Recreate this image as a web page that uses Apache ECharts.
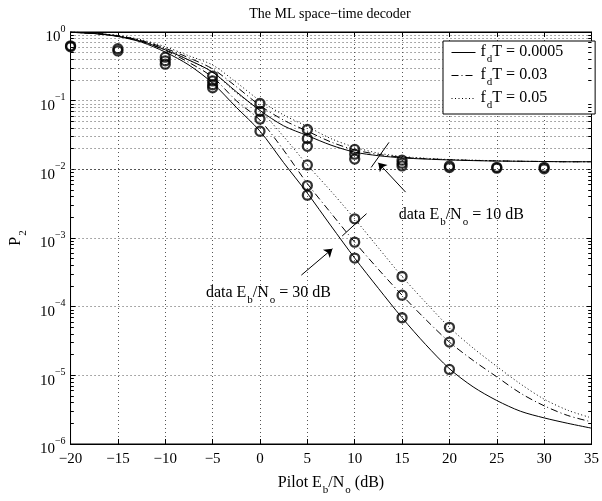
<!DOCTYPE html>
<html>
<head>
<meta charset="utf-8">
<script src="https://cdn.jsdelivr.net/npm/echarts@6/dist/echarts.min.js"></script>
<style>
html, body { margin: 0; padding: 0; background: #fff; }
#chart { width: 602px; height: 501px; }
</style>
</head>
<body>
<div id="chart"></div>
<script>
// pilot Eb/No (dB) where the analytic curves are read
const pilotSnr = [-20, -17.5, -15, -12.5, -10, -7.5, -5, -2.5, 0, 2.5, 5, 7.5, 10, 12.5, 15, 17.5, 20, 22.5, 25, 27.5, 30, 32.5, 35];
const fdT = ['0.0005', '0.03', '0.05'];

// data Eb/No = 10 dB
const solid10 = [0.99, 0.95, 0.87, 0.73, 0.55, 0.39, 0.26, 0.135, 0.072, 0.043, 0.031, 0.0225, 0.0178, 0.0158, 0.0147, 0.0141, 0.0137, 0.0134, 0.0132, 0.0131, 0.013, 0.0129, 0.0129];
const dash10 = [0.99, 0.955, 0.88, 0.75, 0.58, 0.42, 0.29, 0.16, 0.085, 0.052, 0.036, 0.025, 0.0192, 0.0165, 0.015, 0.0143, 0.0138, 0.0135, 0.0133, 0.0131, 0.013, 0.0129, 0.0129];
const dot10 = [1.0, 0.96, 0.89, 0.77, 0.61, 0.45, 0.33, 0.185, 0.10, 0.062, 0.042, 0.028, 0.021, 0.0172, 0.0154, 0.0145, 0.0139, 0.0136, 0.0133, 0.0131, 0.013, 0.0129, 0.0129];
// data Eb/No = 30 dB
const solid30 = [0.99, 0.95, 0.86, 0.71, 0.51, 0.33, 0.18, 0.08, 0.036, 0.0125, 0.0045, 0.0015, 0.00051, 0.000185, 0.000069, 0.000028, 0.0000125, 0.0000068, 0.0000043, 0.000003, 0.0000024, 0.000002, 0.0000017];
const dash30 = [0.99, 0.955, 0.87, 0.73, 0.54, 0.36, 0.22, 0.10, 0.052, 0.019, 0.0062, 0.0023, 0.00087, 0.00035, 0.000147, 0.000065, 0.0000305, 0.0000165, 0.0000095, 0.0000055, 0.0000036, 0.0000026, 0.0000021];
const dot30 = [1.0, 0.96, 0.88, 0.75, 0.57, 0.39, 0.26, 0.13, 0.072, 0.03, 0.0116, 0.0048, 0.0019, 0.00072, 0.000275, 0.000115, 0.00005, 0.000025, 0.0000135, 0.0000075, 0.0000045, 0.0000031, 0.0000024];

// simulated points (circles)
const simPoints = [
  [-20, 0.63], [-20, 0.61],
  [-15, 0.57], [-15, 0.53],
  [-10, 0.43], [-10, 0.38], [-10, 0.34],
  [-5, 0.228], [-5, 0.194], [-5, 0.170], [-5, 0.154],
  [0, 0.091], [0, 0.070], [0, 0.054], [0, 0.036],
  [5, 0.038], [5, 0.028], [5, 0.0216], [5, 0.0116], [5, 0.0058], [5, 0.0042],
  [10, 0.0195], [10, 0.0166], [10, 0.0141], [10, 0.0019], [10, 0.00087], [10, 0.00051],
  [15, 0.0136], [15, 0.0123], [15, 0.0112], [15, 0.000275], [15, 0.000147], [15, 0.000069],
  [20, 0.0112], [20, 0.0106], [20, 0.00005], [20, 0.0000305], [20, 0.0000122],
  [25, 0.0107], [25, 0.0104],
  [30, 0.0107], [30, 0.0102]
];

const decades = [-6, -5, -4, -3, -2, -1, 0];

const serif = 'Liberation Serif';
const gridDots = { type: [1, 3], color: '#555', width: 1 };
const lineTypes = ['solid', [7, 3, 1, 3], [1, 2.5]];

const rich = {
  n: { fontFamily: serif, fontSize: 16, color: '#000', verticalAlign: 'top', lineHeight: 17 },
  s: { fontFamily: serif, fontSize: 11, color: '#000', verticalAlign: 'top', lineHeight: 11, padding: [10, 0, 0, 1] }
};
const supRich = {
  b: { fontFamily: serif, fontSize: 15, color: '#000', verticalAlign: 'top', lineHeight: 16, padding: [6, 0, 0, 0] },
  e: { fontFamily: serif, fontSize: 10, color: '#000', verticalAlign: 'top', lineHeight: 11 }
};

// minor log values 2..9 x 10^k
const minorVals = [];
decades.slice(0, -1).forEach(function (k) {
  for (let m = 2; m <= 9; m++) minorVals.push(m * Math.pow(10, k));
});

function pairs(ys) {
  return pilotSnr.map(function (x, i) { return [x, ys[i]]; });
}

const curves = [solid10, dash10, dot10, solid30, dash30, dot30];
const series = curves.map(function (ys, i) {
  return {
    name: fdT[i % 3],
    type: 'line',
    data: pairs(ys),
    symbol: 'none',
    smooth: 0.3,
    lineStyle: { color: '#000', width: 1, type: lineTypes[i % 3] },
    itemStyle: { color: '#000' },
    z: 3
  };
});

// minor grid lines and minor ticks on both y axes
const minorTicks = [];
minorVals.forEach(function (v) {
  minorTicks.push([{ coord: [-20, v] }, { coord: [-19.65, v] }]);
  minorTicks.push([{ coord: [34.65, v] }, { coord: [35, v] }]);
});

series.push({
  name: 'sim',
  type: 'scatter',
  data: simPoints,
  symbol: 'circle',
  symbolSize: 9,
  itemStyle: { color: 'rgba(255,255,255,0)', borderColor: '#000', borderWidth: 2.3 },
  z: 4,
  markLine: {
    silent: true,
    symbol: 'none',
    label: { show: false },
    lineStyle: gridDots,
    data: minorVals.map(function (v) { return { yAxis: v }; }),
    z: 1
  }
});

series.push({
  name: 'ticks',
  type: 'scatter',
  data: [],
  markLine: {
    silent: true,
    symbol: 'none',
    label: { show: false },
    lineStyle: { color: '#000', width: 1, type: 'solid' },
    data: minorTicks
  }
});

// annotations
series.push({
  name: 'notes',
  type: 'scatter',
  data: [],
  markLine: {
    silent: true,
    symbol: 'none',
    label: { show: false },
    lineStyle: { color: '#000', width: 1, type: 'solid' },
    data: [
      [{ coord: [11.74, 0.01066] }, { coord: [13.62, 0.0247] }],
      [{ coord: [15.37, 0.00466], symbol: 'none' }, { coord: [12.49, 0.01244], symbol: 'arrow', symbolSize: 8 }],
      [{ coord: [8.68, 0.00107] }, { coord: [11.25, 0.00226] }],
      [{ coord: [4.37, 0.000288], symbol: 'none' }, { coord: [7.65, 0.000697], symbol: 'arrow', symbolSize: 8 }]
    ]
  },
  markPoint: {
    silent: true,
    symbol: 'circle',
    symbolSize: 0,
    label: { show: true, position: 'right', distance: 0, rich: rich },
    data: [
      { coord: [14.65, 0.00212], label: { formatter: '{n|data E}{s|b}{n|/N}{s|o}{n| = 10 dB}' } },
      { coord: [-5.71, 0.000155], label: { formatter: '{n|data E}{s|b}{n|/N}{s|o}{n| = 30 dB}' } }
    ]
  }
});

const option = {
  backgroundColor: '#fff',
  animation: false,
  title: {
    text: 'The ML space\u2212time decoder',
    left: 325,
    top: 2,
    textAlign: 'center',
    textStyle: { fontFamily: serif, fontSize: 14, fontWeight: 'normal', color: '#000' }
  },
  legend: {
    data: fdT,
    orient: 'vertical',
    left: 443,
    top: 41,
    padding: [3, 32, 3, 8],
    itemGap: 2,
    itemWidth: 24,
    itemHeight: 14,
    backgroundColor: '#fff',
    borderColor: '#000',
    borderWidth: 1,
    selectedMode: false,
    itemStyle: { opacity: 0 },
    lineStyle: { width: 1 },
    formatter: function (n) { return '{n|f}{s|d}{n|T = ' + n + '}'; },
    textStyle: { rich: rich }
  },
  grid: {
    left: 58, right: 9, top: 32, bottom: 47,
    show: true, borderColor: '#000', borderWidth: 1, backgroundColor: 'transparent'
  },
  xAxis: [{
    type: 'value',
    min: -20, max: 35, interval: 5,
    name: '{n|Pilot E}{s|b}{n|/N}{s|o}{n| (dB)}',
    nameLocation: 'middle',
    nameGap: 31,
    nameTextStyle: { rich: rich },
    axisLine: { onZero: false, lineStyle: { color: '#000' } },
    axisTick: { inside: true, length: 5, lineStyle: { color: '#000' } },
    axisLabel: {
      fontFamily: serif, fontSize: 15, color: '#000', margin: 8,
      formatter: function (v) { return String(v).replace('-', '\u2212'); }
    },
    splitLine: { show: true, lineStyle: gridDots }
  }, {
    type: 'value',
    position: 'top',
    min: -20, max: 35, interval: 5,
    axisLine: { onZero: false, lineStyle: { color: '#000' } },
    axisTick: { inside: true, length: 5, lineStyle: { color: '#000' } },
    axisLabel: { show: false },
    splitLine: { show: false }
  }],
  yAxis: [{
    type: 'log',
    logBase: 10,
    min: 1e-6, max: 1,
    name: '{n|P}{s|2}',
    nameLocation: 'middle',
    nameRotate: 90,
    nameGap: 40,
    nameTextStyle: { rich: rich },
    axisLine: { onZero: false, lineStyle: { color: '#000' } },
    axisTick: { inside: true, length: 5, lineStyle: { color: '#000' } },
    axisLabel: {
      margin: 5,
      rich: supRich,
      formatter: function (v) {
        const e = Math.round(Math.log10(v));
        return '{b|10}{e|' + String(e).replace('-', '\u2212') + '}';
      }
    },
    splitLine: { show: true, lineStyle: gridDots }
  }, {
    type: 'log',
    logBase: 10,
    min: 1e-6, max: 1,
    position: 'right',
    axisLine: { onZero: false, lineStyle: { color: '#000' } },
    axisTick: { inside: true, length: 5, lineStyle: { color: '#000' } },
    axisLabel: { show: false },
    splitLine: { show: false }
  }],
  series: series
};

const chart = echarts.init(document.getElementById('chart'));
chart.setOption(option);
window.addEventListener('resize', function () { chart.resize(); });
</script>
</body>
</html>
